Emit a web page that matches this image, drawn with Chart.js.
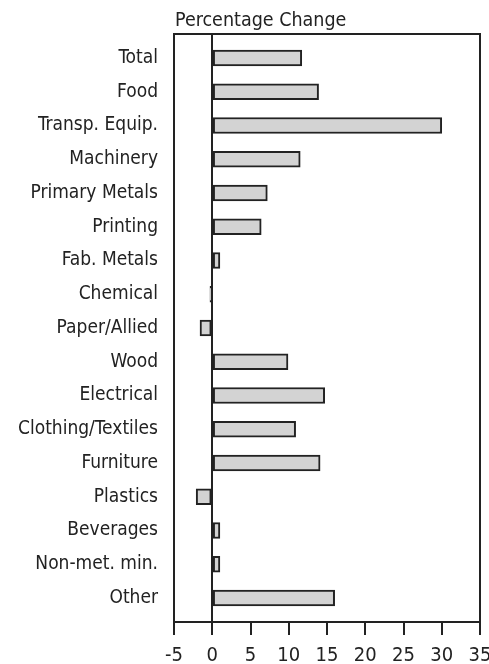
<!DOCTYPE html>
<html>
<head>
<meta charset="utf-8">
<script src="https://cdn.jsdelivr.net/npm/chart.js@4/dist/chart.umd.min.js"></script>
<style>
  html, body { margin: 0; padding: 0; background: #fff; }
  canvas { display: block; }
</style>
</head>
<body>
<canvas id="myChart" width="489" height="664"></canvas>
<script>
// categories top to bottom, percentage change per sector
const sectors = ['Total', 'Food', 'Transp. Equip.', 'Machinery', 'Primary Metals', 'Printing',
  'Fab. Metals', 'Chemical', 'Paper/Allied', 'Wood', 'Electrical', 'Clothing/Textiles',
  'Furniture', 'Plastics', 'Beverages', 'Non-met. min.', 'Other'];
const changes = [11.7, 13.9, 30.0, 11.5, 7.2, 6.4, 1.0, -0.3, -1.6, 9.9, 14.7, 10.9, 14.1, -2.1, 1.0, 1.0, 16.0];
const xTicks = [-5, 0, 5, 10, 15, 20, 25, 30, 35];

const FONT = "'Liberation Sans Narrow', 'DejaVu Sans Condensed', Roboto, sans-serif";
const INK = '#222';

// frame round the plot area, tick marks under the x axis, title above
const framePlugin = {
  id: 'frame',
  afterDraw(chart) {
    const { ctx, chartArea: a } = chart;
    const xs = chart.scales.x;
    ctx.save();
    ctx.strokeStyle = INK;
    ctx.lineWidth = 2;
    ctx.strokeRect(a.left, a.top, a.right - a.left, a.bottom - a.top);
    ctx.beginPath();
    xTicks.forEach(v => {
      const px = Math.round(xs.getPixelForValue(v));
      ctx.moveTo(px, a.bottom);
      ctx.lineTo(px, a.bottom + 13);
    });
    ctx.stroke();
    ctx.fillStyle = INK;
    ctx.font = '19.5px ' + FONT;
    ctx.textAlign = 'left';
    ctx.textBaseline = 'alphabetic';
    ctx.fillText('Percentage Change', a.left + 1, 26);
    ctx.restore();
  }
};

const ctx = document.getElementById('myChart').getContext('2d');
new Chart(ctx, {
  type: 'bar',
  data: {
    datasets: [{
      data: changes.map((v, i) => ({ x: v, y: i })),
      backgroundColor: '#d3d3d3',
      borderColor: INK,
      borderWidth: 2,
      borderSkipped: false,
      barThickness: 16
    }]
  },
  options: {
    indexAxis: 'y',
    responsive: false,
    animation: false,
    layout: { padding: { top: 34, right: 9 } },
    plugins: { legend: { display: false }, tooltip: { enabled: false } },
    scales: {
      x: {
        type: 'linear',
        min: -5,
        max: 35,
        afterBuildTicks: s => { s.ticks = xTicks.map(v => ({ value: v })); },
        afterFit: s => { s.height = 42; s.paddingLeft = 0; s.paddingRight = 0; },
        border: { display: false },
        grid: {
          drawTicks: false,
          color: c => (c.tick && c.tick.value === 0 ? INK : 'rgba(0,0,0,0)'),
          lineWidth: 2
        },
        ticks: { color: INK, font: { family: FONT, size: 20 }, padding: 22, maxRotation: 0 }
      },
      y: {
        type: 'linear',
        reverse: true,
        offset: false,
        min: -0.71,
        max: sectors.length - 1 + 0.71,
        afterBuildTicks: s => { s.ticks = sectors.map((_, i) => ({ value: i })); },
        afterFit: s => { s.width = 174; },
        border: { display: false },
        grid: { display: false, drawTicks: false, offset: false },
        ticks: {
          color: INK,
          font: { family: FONT, size: 19 },
          padding: 16,
          callback: v => sectors[v] || ''
        }
      }
    }
  },
  plugins: [framePlugin]
});
</script>
</body>
</html>
